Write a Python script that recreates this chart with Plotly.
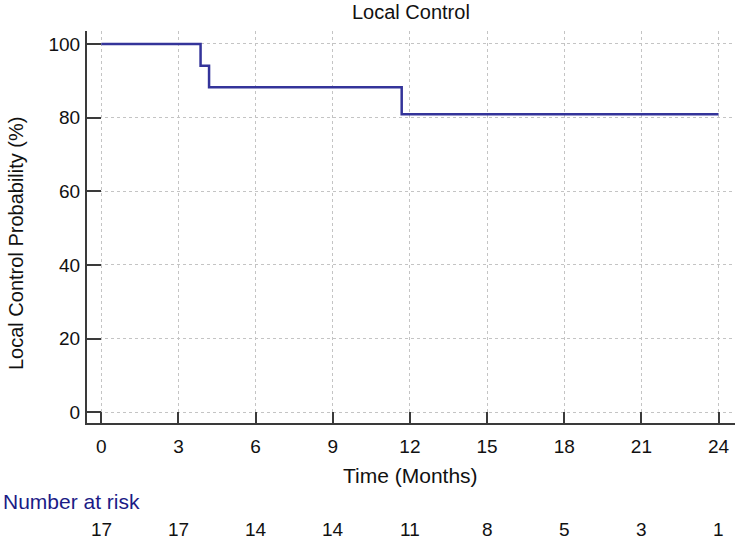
import plotly.graph_objects as go

# Kaplan-Meier step data
event_times = [0, 3.86, 4.19, 11.68, 24]
survival_pct = [100, 94.1, 88.2, 80.9, 80.9]

x_ticks = [0, 3, 6, 9, 12, 15, 18, 21, 24]
y_ticks = [0, 20, 40, 60, 80, 100]
at_risk = [17, 17, 14, 14, 11, 8, 5, 3, 1]

W, H = 736, 539
L, R, T, B = 87, 1, 31, 116
plot_h = H - T - B

def py(pix):
    return (H - B - pix) / plot_h

def px(pix):
    return (pix - L) / (W - L - R)

FONT = "Liberation Sans"
LINE = "#34349a"
NAVY = "#1b1b86"

fig = go.Figure()
fig.add_trace(go.Scatter(
    x=event_times, y=survival_pct, mode="lines",
    line=dict(shape="hv", color=LINE, width=2.5),
    showlegend=False, hoverinfo="skip",
))

fig.update_layout(
    width=W, height=H,
    margin=dict(l=L, r=R, t=T, b=B, pad=0),
    paper_bgcolor="white", plot_bgcolor="white",
    font=dict(family=FONT, size=19, color="#111111"),
    showlegend=False,
)
fig.update_xaxes(
    range=[-0.556, 24.64], tickvals=x_ticks, ticktext=[str(v) for v in x_ticks],
    showgrid=True, gridcolor="#c4c4c4", griddash="dot", gridwidth=1,
    showline=True, linecolor="#3a3a3a", linewidth=2,
    ticks="inside", ticklen=11, tickwidth=2, tickcolor="#3a3a3a",
    ticklabelstandoff=5, zeroline=False,
    tickfont=dict(size=19, family=FONT, color="#111111"),
)
fig.update_yaxes(
    range=[-2.9, 103.5], tickvals=y_ticks, ticktext=[str(v) for v in y_ticks],
    showgrid=True, gridcolor="#c4c4c4", griddash="dot", gridwidth=1,
    showline=True, linecolor="#3a3a3a", linewidth=2,
    ticks="inside", ticklen=14, tickwidth=2, tickcolor="#3a3a3a",
    ticklabelstandoff=1, zeroline=False,
    tickfont=dict(size=19, family=FONT, color="#111111"),
)

ann = []
ann.append(dict(text="Local Control", x=px(411), y=py(12), xref="paper", yref="paper",
                xanchor="center", yanchor="middle", showarrow=False,
                font=dict(size=20, family=FONT, color="#111111")))
ann.append(dict(text="Time (Months)", x=px(410), y=py(476), xref="paper", yref="paper",
                xanchor="center", yanchor="middle", showarrow=False,
                font=dict(size=21, family=FONT, color="#111111")))
ann.append(dict(text="Local Control Probability (%)", x=px(16), y=py(244), xref="paper", yref="paper",
                xanchor="center", yanchor="middle", showarrow=False, textangle=-90,
                font=dict(size=20, family=FONT, color="#111111")))
ann.append(dict(text="Number at risk", x=px(1), y=py(501), xref="paper", yref="paper",
                xanchor="left", yanchor="middle", showarrow=False,
                font=dict(size=21, family=FONT, color=NAVY)))
for t, n in zip(x_ticks, at_risk):
    ann.append(dict(text=str(n), x=t, y=py(529), xref="x", yref="paper",
                    xanchor="center", yanchor="middle", showarrow=False,
                    font=dict(size=19, family=FONT, color="#111111")))
fig.update_layout(annotations=ann)

fig.write_html("out.html", config={"displayModeBar": False},
               post_script="document.body.style.margin='0px';document.body.style.overflow='hidden';")
